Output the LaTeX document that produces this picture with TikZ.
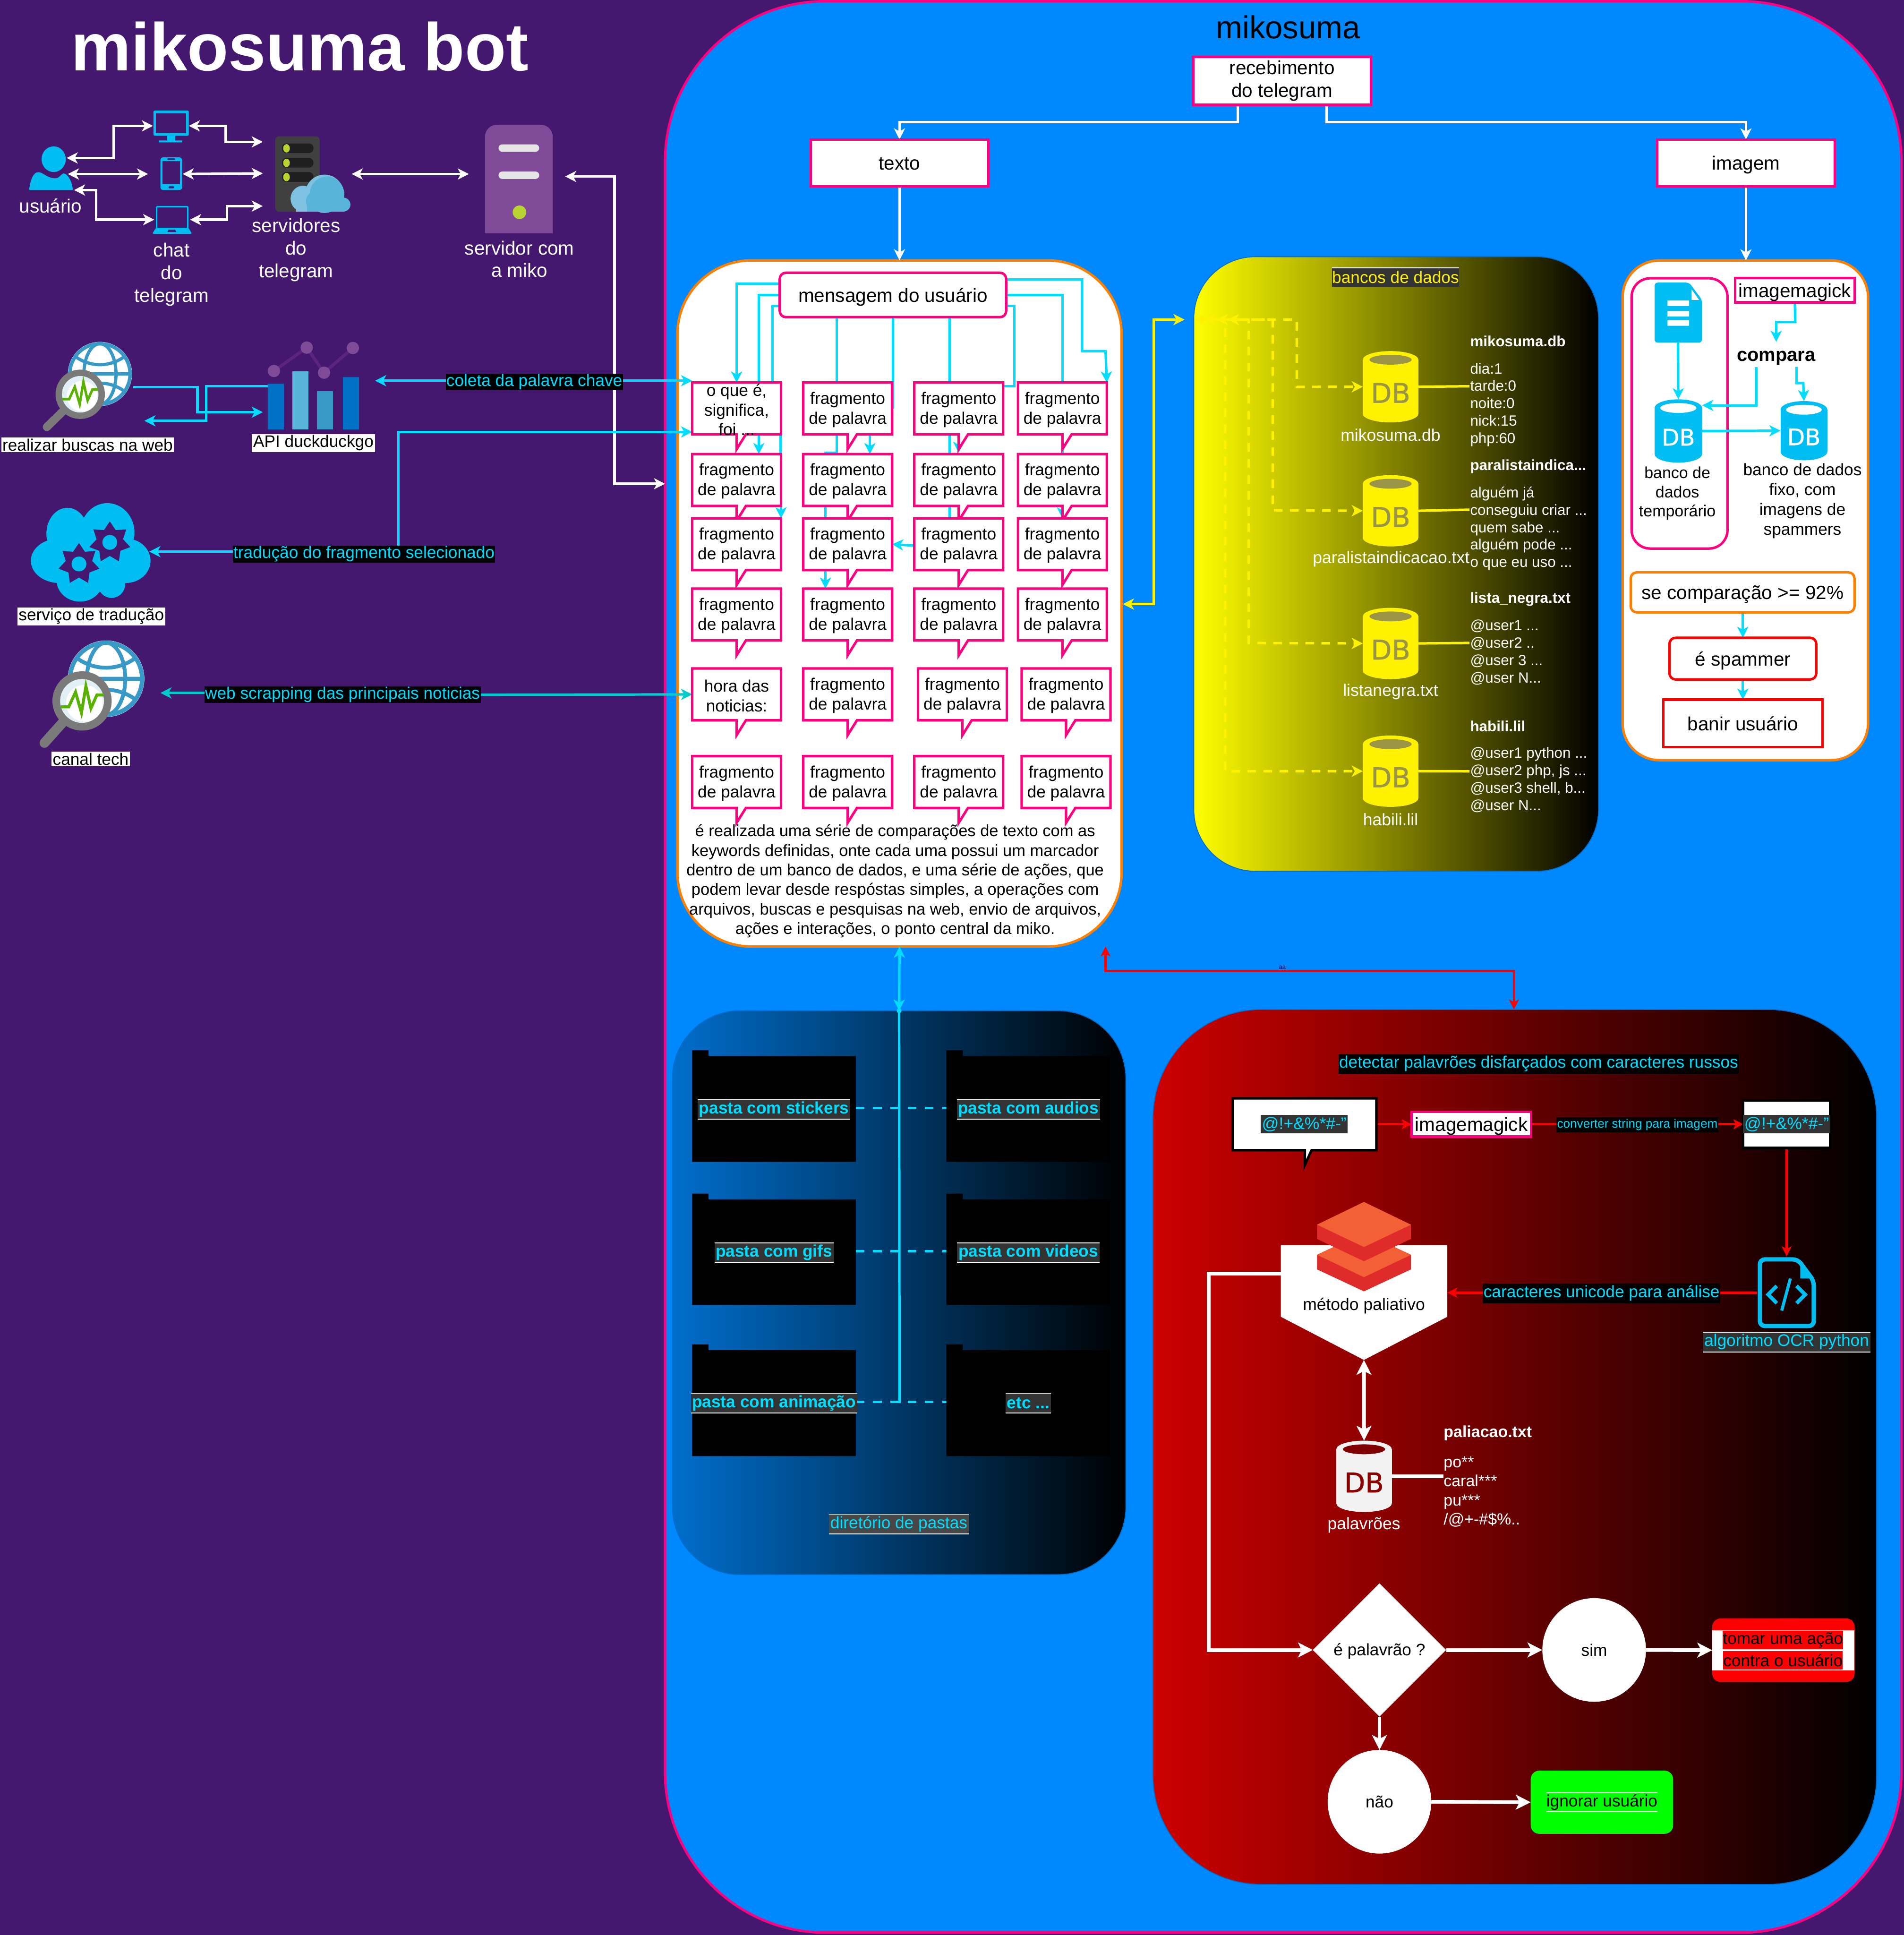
\documentclass[tikz,border=0pt]{standalone}
\usepackage{fontspec}
\setmainfont{Liberation Sans}
\newfontfamily\dbfont[FakeBold=1]{DejaVu Sans}
\usetikzlibrary{arrows.meta,calc,shapes.geometric}
\pgfdeclarelayer{panels}\pgfdeclarelayer{conns}
\pgfsetlayers{panels,conns,main}
\definecolor{bgp}{HTML}{44186E}
\definecolor{mainb}{HTML}{0088FF}
\definecolor{pk}{HTML}{FF0080}
\definecolor{og}{HTML}{FF8000}
\definecolor{cy}{HTML}{00DDFF}
\definecolor{cyd}{HTML}{00CCCC}
\definecolor{ic}{HTML}{00BEF2}
\definecolor{globeb}{HTML}{3999C6}
\definecolor{gr}{HTML}{7A7A7A}
\definecolor{led}{HTML}{B8D432}
\definecolor{tagg}{HTML}{333333}
\definecolor{mikop}{HTML}{7F4A98}
\definecolor{cloudl}{HTML}{7FC1E0}
\definecolor{cloudd}{HTML}{59B4D9}
\definecolor{barb}{HTML}{0072C6}
\definecolor{lnp}{HTML}{5C2480}
\definecolor{edgeb}{HTML}{006ECC}
\definecolor{lyO}{HTML}{F46036}
\definecolor{lyR}{HTML}{E02B2B}
\newcommand\fzA{\fontsize{13.5}{16}\selectfont}
\newcommand\fzB{\fontsize{15.5}{18.3}\selectfont}
\newcommand\fzC{\fontsize{13.6}{16.1}\selectfont}
\newcommand\fzD{\fontsize{12}{14.1}\selectfont}
\newcommand\fzE{\fontsize{13}{15.5}\selectfont}
\newcommand\dn[1]{\raisebox{-5.7pt}[0pt][0pt]{#1}}
\tikzset{
  every node/.style={outer sep=0pt,inner sep=0pt,align=center},
  >={Stealth[length=9pt,width=9pt,inset=2.5pt]},
  wline/.style={draw=white,line width=2pt},
  wthick/.style={draw=white,line width=3pt,>={Stealth[length=12pt,width=12pt,inset=3pt]}},
  cline/.style={draw=cy,line width=2pt},
  cdash/.style={draw=cy,line width=2pt,dash pattern=on 7pt off 7pt},
  rline/.style={draw=red,line width=2pt,>={Stealth[length=8pt,width=8pt,inset=2pt]}},
  yline/.style={draw=yellow,line width=2pt},
  ydash/.style={draw=yellow,line width=2pt,dash pattern=on 7pt off 6pt},
  pinkbox/.style={draw=pk,fill=white,line width=2pt,font=\fzB,text=black},
  tagk/.style={fill=black,text=cy,inner sep=.5pt},
  tagw/.style={fill=white,text=black,font=\fzA,inner sep=1pt},
  tagg/.style={fill=tagg,text=cy,inner sep=1pt},
  wt/.style={text=white,font=\fzB},
}
\newcommand\callout[4]{%
  \path[draw=pk,fill=white,line width=2pt,line join=miter]
    (#2,#3) -- (#2+72,#3) -- (#2+72,#3+42) -- (#2+43.5,#3+42) -- (#2+36,#3+54) -- (#2+36,#3+42) -- (#2,#3+42) -- cycle;
  \node[minimum width=72pt,minimum height=42pt] (#1) at (#2+36,#3+21) {};
  \node[font=\fzA,text=black] (#1t) at (#2+36,#3+22) {#4};
}
\newcommand\elli[5]{\fill[#1] (#2,#3) ellipse [x radius=#4,y radius=#5];}
% name,cx,top,w,h,body,hole,text,fontsize
\newcommand\dbicon[9]{%
  \fill[#6] (#2-#4/2,#3+7) rectangle (#2+#4/2,#3+#5-7);
  \elli{#6}{#2}{#3+7}{#4/2}{7}
  \elli{#6}{#2}{#3+#5-7}{#4/2}{7}
  \elli{#7}{#2}{#3+7}{#4*.38}{4}
  \node[minimum width=#4 pt,minimum height=#5 pt] (#1) at (#2,#3+#5/2) {};
  \node[text=#8,font=\dbfont\fontsize{#9}{#9}\selectfont] (#1t) at (#2,#3+#5/2+5) {DB};
}
% gx,gy,gr,mx,my,mr,hx,hy
\newcommand\globeicon[8]{%
  \fill[white] (#1,#2) circle [radius=#3];
  \draw[globeb,line width=#3*.11 pt] (#1,#2) circle [radius=#3*.94];
  \draw[globeb,line width=#3*.1 pt] (#1,#2) ellipse [x radius=#3*.5,y radius=#3*.94]
    (#1-#3*.94,#2) -- (#1+#3*.94,#2)
    (#1-#3*.78,#2-#3*.55) .. controls (#1-#3*.3,#2-#3*.2) and (#1+#3*.3,#2-#3*.2) .. (#1+#3*.78,#2-#3*.55)
    (#1-#3*.78,#2+#3*.55) .. controls (#1-#3*.3,#2+#3*.2) and (#1+#3*.3,#2+#3*.2) .. (#1+#3*.78,#2+#3*.55);
  \draw[gr,line width=#6*.33 pt,line cap=round] (#7,#8) -- (#4,#5);
  \fill[gr] (#4,#5) circle [radius=#6];
  \fill[white!85!globeb] (#4,#5) circle [radius=#6*.74];
  \fill[white] (#4+#6*.08,#5+#6*.08) circle [radius=#6*.62];
  \draw[green!50!yellow!70!black,line width=#6*.1 pt,line join=miter]
    (#4-#6*.72,#5+#6*.2) -- (#4-#6*.45,#5+#6*.2) -- (#4-#6*.22,#5-#6*.3) -- (#4-#6*.02,#5+#6*.4)
    -- (#4+#6*.13,#5-#6*.5) -- (#4+#6*.3,#5+#6*.25) -- (#4+#6*.5,#5-#6*.2) -- (#4+#6*.72,#5-#6*.2);
}
\newcommand\lined[1]{\draw[white,line width=.6pt] (#1.north west) -- (#1.north east) (#1.south west) -- (#1.south east);}
\newcommand\folder[3]{% x,tabtop,bottom
  \fill[black] (#1,#2) -- (#1+13.3,#2) -- (#1+13.3,#2+4.7) -- (#1+132.6,#2+4.7) -- (#1+132.6,#3) -- (#1,#3) -- cycle;
}
\begin{document}
\begin{tikzpicture}[x=1pt,y=-1pt]
\useasboundingbox (0,0) rectangle (1543,1568);
\begin{pgfonlayer}{panels}
\fill[bgp] (0,0) rectangle (1543,1568);
\node[draw=pk,fill=mainb,line width=2pt,rounded corners=130pt,minimum width=1002pt,minimum height=1565pt] (mainbox) at (1040,783.5) {};
\node[draw=og,fill=white,line width=2pt,rounded corners=60pt,minimum width=360pt,minimum height=556pt] (msgpanel) at (729,489) {};
\node[draw=edgeb,line width=.7pt,left color=yellow,right color=black,rounded corners=50pt,minimum width=328pt,minimum height=498pt] (dbpanel) at (1131.5,457) {};
\node[draw=og,fill=white,line width=2pt,rounded corners=30pt,minimum width=199pt,minimum height=405pt] (imgpanel) at (1414.5,413.5) {};
\node[draw=pk,line width=2pt,rounded corners=15pt,minimum width=77.7pt,minimum height=219pt] (temppanel) at (1361.2,335) {};
\node[draw=edgeb,line width=.7pt,left color=edgeb,right color=black,rounded corners=55pt,minimum width=367.5pt,minimum height=457pt] (dirpanel) at (728.7,1047.5) {};
\node[draw=edgeb,line width=.7pt,left color=red!80!black,right color=black,rounded corners=88pt,minimum width=586.5pt,minimum height=709pt] (redpanel) at (1227.7,1172.5) {};
\end{pgfonlayer}

% ---- title
\node[text=white,font=\bfseries\fontsize{54.7}{60}\selectfont] (title) at (243,37.7) {mikosuma bot};

% ---- user
\elli{ic}{43.5}{129}{9.8}{10.4}
\fill[ic] (23.6,154) .. controls (24.5,146) and (27,139.5) .. (31,139.5) .. controls (35,139.5) and (38,144.5) .. (45,144.5)
  .. controls (48,144.5) and (50,140.5) .. (51.7,140.5) .. controls (55,141) and (58.5,147) .. (59,154) -- cycle;
\node[wt] (usuario) at (41,167) {usuário};
% monitor
\fill[ic,rounded corners=1pt] (124.4,89.6) rectangle (153,110);
\fill[bgp] (126.4,91.8) rectangle (151,108);
\fill[ic] (135.5,110) rectangle (142,114) (128.7,113.8) rectangle (147.6,115.4);
% phone
\fill[ic,rounded corners=2pt] (130,127.5) rectangle (147.6,154);
\fill[bgp] (131.6,130.4) rectangle (146,149.4);
\fill[bgp,rounded corners=.5pt] (135.6,128.3) rectangle (142,129.5) (136.6,151) rectangle (141,152.6);
% laptop
\fill[ic,rounded corners=1pt] (126.4,166.9) rectangle (152.7,186);
\fill[bgp] (127.6,168.2) rectangle (151.6,184.5);
\fill[ic,rounded corners=1pt] (126.4,184.6) -- (152.7,184.6) -- (155.6,189.4) -- (123.4,189.4) -- cycle;
\fill[bgp] (136.5,186.2) -- (142,186.2) -- (142.8,188) -- (135.7,188) -- cycle;
\node[wt] (chat) at (139,222.5) {chat\\do\\telegram};
% server
\fill[black!75,rounded corners=3pt] (223,110.5) rectangle (259,171.5);
\foreach \yy in {116.2,128,139.5}{
  \fill[black!88,rounded corners=3.5pt] (228.5,\yy) rectangle (254,\yy+7.8);
  \elli{led}{232.2}{\yy+4}{2.7}{3.4}
}
\elli{cloudl}{245.5}{161}{10}{10.5}
\elli{cloudl}{263}{157}{15.5}{15.5}
\fill[cloudl] (240,165) rectangle (258,171.5);
\elli{cloudd}{265}{157.5}{14}{14.5}
\elli{cloudd}{257}{163}{9}{8.5}
\fill[cloudd] (249,164) rectangle (277,171.5);
\elli{cloudd}{278}{165.8}{6}{5.7}
\node[wt] (servtg) at (240,202.5) {servidores\\do\\telegram};
% miko server
\fill[mikop] (393,189) [rounded corners=10pt] -- (393,101) -- (448,101) [sharp corners] -- (448,189) -- cycle;
\fill[white!90!black,rounded corners=3pt] (404,117) rectangle (437,123) (404,139) rectangle (437,145);
\elli{led}{421}{172}{5.5}{5.5}
\node[wt] (mikoserv) at (421,210) {servidor com\\a miko};

% ---- left services
\globeicon{81}{303}{26}{65}{319.5}{20}{38}{346}
\node[tagw] (buscas) at (71,360.5) {realizar buscas na web};
\fill[barb] (217,311) rectangle (230,348) (278,305.6) rectangle (291,348);
\fill[cloudd] (237,301) rectangle (250,348);
\fill[globeb] (257,317) rectangle (270,348);
\draw[lnp,line width=2.5pt] (222,300.6) -- (248.6,281.7) -- (262.6,302) -- (286,282);
\foreach \px/\py in {222/300.6,248.6/281.7,262.6/302,286/282}{\elli{mikop}{\px}{\py}{5}{5}}
\node[tagw] (apiddg) at (254,359) {API duckduckgo};
\foreach \ex/\ey/\rx/\ry in {54.6/432.5/17/21,87/431.7/22/24,48/454.4/23/18,102/454.4/20/18,64.8/470/19/17.5,90.4/473.5/11/11,75/452/30/22}{\elli{ic}{\ex}{\ey}{\rx}{\ry}}
\node[star,star points=7,star point ratio=1.55,fill=bgp,minimum size=34pt] (gearA) at (64,457) {};
\elli{ic}{64}{457}{6}{6}
\node[star,star points=7,star point ratio=1.55,fill=bgp,minimum size=34pt] (gearB) at (89,439.5) {};
\elli{ic}{89}{439.5}{6}{6}
\node[tagw] (traducao) at (74,499.5) {serviço de tradução};
\globeicon{86}{550}{31}{66.5}{568}{24}{36}{602}
\node[tagw] (canal) at (73.5,615) {canal tech};

% ---- tags
\node[tagk,font=\fzA] (tcoleta) at (433,309.5) {coleta da palavra chave};
\node[tagk,font=\fzA] (ttrad) at (295,449) {tradução do fragmento selecionado};
\node[tagk,font=\fzA] (tweb) at (277.6,563) {web scrapping das principais noticias};

% ---- main top
\node[text=black,font=\fontsize{25.7}{28}\selectfont] (mikotitle) at (1044,22) {mikosuma};
\node[pinkbox,minimum width=144pt,minimum height=39pt] (recv) at (1039,65.5) {recebimento\\do telegram};
\node[pinkbox,minimum width=144pt,minimum height=38pt] (texto) at (729,132) {\dn{texto}};
\node[pinkbox,minimum width=144pt,minimum height=38pt] (imagem) at (1415,132) {\dn{imagem}};

% ---- message panel
\node[pinkbox,rounded corners=5pt,minimum width=183.5pt,minimum height=36pt] (msg) at (723.7,239) {\dn{mensagem do usuário}};
\callout{coA}{561}{310}{o que é,\\significa,\\foi ...}
\callout{coB}{651}{310}{fragmento\\de palavra}
\callout{coC}{741}{310}{fragmento\\de palavra}
\callout{coD}{825}{310}{fragmento\\de palavra}
\callout{cpA}{561}{368}{fragmento\\de palavra}
\callout{cpB}{651}{368}{fragmento\\de palavra}
\callout{cpC}{741}{368}{fragmento\\de palavra}
\callout{cpD}{825}{368}{fragmento\\de palavra}
\callout{cqA}{561}{420}{fragmento\\de palavra}
\callout{cqB}{651}{420}{fragmento\\de palavra}
\callout{cqC}{741}{420}{fragmento\\de palavra}
\callout{cqD}{825}{420}{fragmento\\de palavra}
\callout{crA}{561}{477}{fragmento\\de palavra}
\callout{crB}{651}{477}{fragmento\\de palavra}
\callout{crC}{741}{477}{fragmento\\de palavra}
\callout{crD}{825}{477}{fragmento\\de palavra}
\callout{csA}{561}{541.7}{hora das\\noticias:}
\callout{csB}{651}{541.7}{fragmento\\de palavra}
\callout{csC}{744}{541.7}{fragmento\\de palavra}
\callout{csD}{828}{541.7}{fragmento\\de palavra}
\callout{ctA}{561}{612.7}{fragmento\\de palavra}
\callout{ctB}{651}{612.7}{fragmento\\de palavra}
\callout{ctC}{741}{612.7}{fragmento\\de palavra}
\callout{ctD}{828}{612.7}{fragmento\\de palavra}
\node[text=black,font=\fontsize{13.2}{15.85}\selectfont] (msgtext) at (725.5,714) {é realizada uma série de comparações de texto com as\\keywords definidas, onte cada uma possui um marcador\\dentro de um banco de dados, e uma série de ações, que\\podem levar desde respóstas simples, a operações com\\arquivos, buscas e pesquisas na web, envio de arquivos,\\ações e interações, o ponto central da miko.};

% ---- DB panel
\node[fill=tagg,text=yellow,font=\fzA,minimum width=103pt,minimum height=15.6pt] (tbancos) at (1131,224.8) {bancos de dados};
\lined{tbancos}
\dbicon{dbA}{1127}{284.5}{45}{57.8}{yellow}{yellow!55!black}{yellow!55!black}{22}
\dbicon{dbB}{1127}{385}{45}{57.8}{yellow}{yellow!55!black}{yellow!55!black}{22}
\dbicon{dbC}{1127}{492.5}{45}{57.8}{yellow}{yellow!55!black}{yellow!55!black}{22}
\dbicon{dbD}{1127}{596}{45}{57.8}{yellow}{yellow!55!black}{yellow!55!black}{22}
\node[text=white,font=\fzC] (ldbA) at (1127,352.5) {mikosuma.db};
\node[text=white,font=\fzC] (ldbB) at (1127.5,453) {paralistaindicacao.txt};
\node[text=white,font=\fzC] (ldbC) at (1127,560.5) {listanegra.txt};
\node[text=white,font=\fzC] (ldbD) at (1127,664) {habili.lil};
\node[text=white,font=\bfseries\fzD,anchor=west] (hA) at (1191.5,276.6) {mikosuma.db};
\node[text=white,font=\fzD,anchor=west,align=left] (bA) at (1191.5,327.9) {dia:1\\tarde:0\\noite:0\\nick:15\\php:60};
\node[text=white,font=\bfseries\fzD,anchor=west] (hB) at (1191.5,377.8) {paralistaindica...};
\node[text=white,font=\fzD,anchor=west,align=left] (bB) at (1191.5,428.3) {alguém já\\conseguiu criar ...\\quem sabe ...\\alguém pode ...\\o que eu uso ...};
\node[text=white,font=\bfseries\fzD,anchor=west] (hC) at (1191.5,485.6) {lista\_negra.txt};
\node[text=white,font=\fzD,anchor=west,align=left] (bC) at (1191.5,528.5) {@user1 ...\\@user2 ..\\@user 3 ...\\@user N...};
\node[text=white,font=\bfseries\fzD,anchor=west] (hD) at (1191.5,588.5) {habili.lil};
\node[text=white,font=\fzD,anchor=west,align=left] (bD) at (1191.5,632) {@user1 python ...\\@user2 php, js ...\\@user3 shell, b...\\@user N...};

% ---- image panel
\fill[ic,rounded corners=2.5pt] (1341,229) -- (1369,229) -- (1379.4,243) -- (1379.4,277.6) -- (1341,277.6) -- cycle;
\fill[white] (1371,234.5) -- (1377,243) -- (1371,243) -- cycle;
\fill[white] (1351.5,243.5) rectangle (1369,248) (1351.5,252) rectangle (1369,256.5) (1351.5,259.5) rectangle (1369,264);
\node[pinkbox,minimum width=96.7pt,minimum height=19.6pt] (magickA) at (1454.6,235.2) {\dn{imagemagick}};
\node[text=black,font=\bfseries\fontsize{15.3}{18}\selectfont] (compara) at (1439.5,290.3) {compara};
\dbicon{dbTemp}{1360.2}{323.6}{38.5}{51.3}{ic}{white}{white}{18.5}
\dbicon{dbFix}{1462}{325}{38}{48}{ic}{white}{white}{18.5}
\node[text=black,font=\fzE] (ltemp) at (1359.4,399.8) {banco de\\dados\\temporário};
\node[text=black,font=\fontsize{13.5}{16.1}\selectfont] (lfix) at (1460.8,406) {banco de dados\\fixo, com\\imagens de\\spammers};
\node[draw=og,fill=white,line width=2pt,rounded corners=5pt,minimum width=181.4pt,minimum height=32.4pt,font=\fzB,text=black] (secomp) at (1412.3,480) {\dn{se comparação >= 92\%}};
\node[draw=red,fill=white,line width=2pt,rounded corners=5pt,minimum width=119pt,minimum height=33.8pt,font=\fzB,text=black] (spam) at (1412.5,533.7) {\dn{é spammer}};
\node[draw=red,fill=white,line width=2pt,minimum width=129pt,minimum height=38.5pt,font=\fzB,text=black] (banir) at (1412.5,586.2) {\dn{banir usuário}};

% ---- directories
\folder{561}{851}{941.5}
\folder{767}{851}{941.5}
\folder{561}{967.2}{1057.5}
\folder{767}{967.2}{1057.5}
\folder{561}{1089.4}{1180}
\folder{767}{1089.4}{1180}
\tikzset{dirlab/.style={tagg,font=\bfseries\fzA,minimum height=15.8pt}}
\node[dirlab] (fA) at (627.3,899) {pasta com stickers}; \lined{fA}
\node[dirlab] (fB) at (833.4,899) {pasta com audios}; \lined{fB}
\node[dirlab] (fC) at (627.3,1015) {pasta com gifs}; \lined{fC}
\node[dirlab] (fD) at (833.4,1015) {pasta com videos}; \lined{fD}
\node[dirlab] (fE) at (627.3,1137) {pasta com animação}; \lined{fE}
\node[dirlab] (fF) at (833.4,1137) {etc ...}; \lined{fF}
\node[tagg,fill=black!72,font=\fzA,minimum height=15.8pt] (tdir) at (728.5,1235) {diretório de pastas}; \lined{tdir}

% ---- red panel
\node[tagk,font=\fontsize{13.5}{16}\selectfont,minimum height=16pt] (trussos) at (1247,862) {detectar palavrões disfarçados com caracteres russos};
\path[draw=black,fill=white,line width=2pt,line join=miter] (999,890) -- (1115.5,890) -- (1115.5,932) -- (1063,932) -- (1057.5,944) -- (1057.5,932) -- (999,932) -- cycle;
\node[tagg,font=\fzC,minimum height=15pt] (str) at (1057,911) {@!+\&\%*\#-"};
\node[minimum width=116.5pt,minimum height=42pt] (strbox) at (1057.2,911) {};
\node[pinkbox,minimum width=97pt,minimum height=20pt] (magickB) at (1192.5,911) {\dn{imagemagick}};
\node[draw=black,fill=white,line width=2pt,minimum width=70.3pt,minimum height=38.5pt] (imgbox) at (1448,911) {};
\node[tagg,font=\fzC,minimum height=15pt] (strB) at (1448,911) {@!+\&\%*\#-"};
\node[tagk,font=\fontsize{10}{12}\selectfont,minimum height=12pt] (tconv) at (1327,911.5) {converter string para imagem};
% code icon
\draw[ic,line width=3.5pt,rounded corners=4pt] (1426.3,1020.5) -- (1457,1020.5) -- (1470,1038) -- (1470,1074.5) -- (1426.3,1074.5) -- cycle;
\fill[ic] (1459,1021) -- (1470,1036) -- (1459,1036) -- cycle;
\draw[ic,line width=3pt,line join=miter] (1440,1042) -- (1433,1049) -- (1440,1056) (1456,1042) -- (1463,1049) -- (1456,1056);
\draw[ic,line width=2.5pt] (1451,1036) -- (1444,1062);
\node[tagg,font=\fontsize{13.5}{16}\selectfont,minimum height=16pt] (tocr) at (1448,1087.5) {algoritmo OCR python}; \lined{tocr}
\node[tagk,font=\fontsize{13.5}{16}\selectfont,minimum height=16pt] (tuni) at (1298,1048) {caracteres unicode para análise};
% paliativo
\fill[white] (1038,1009) -- (1173,1009) -- (1173,1067) -- (1105.4,1102) -- (1038,1067) -- cycle;
\fill[lyR] (1067.4,1016.8) -- (1105.4,999) -- (1143.5,1016.8) -- (1143.5,1028.6) -- (1105.4,1046.4) -- (1067.4,1028.6) -- cycle;
\fill[lyO] (1067.4,1016.8) -- (1105.4,999) -- (1143.5,1016.8) -- (1105.4,1034.9) -- cycle;
\fill[lyR] (1067.4,992.4) -- (1105.4,974) -- (1143.5,992.4) -- (1143.5,1003.9) -- (1105.4,1022) -- (1067.4,1003.9) -- cycle;
\fill[lyO] (1067.4,992.4) -- (1105.4,974) -- (1143.5,992.4) -- (1105.4,1010.5) -- cycle;
\node[text=black,font=\fzC] (tpal) at (1105.4,1058) {método paliativo};
\dbicon{dbPal}{1105.5}{1167.4}{45}{57.8}{black!5}{red!50!black}{red!55!black}{22}
\node[text=white,font=\fzC] (lpal) at (1105.4,1236) {palavrões};
\node[text=white,font=\bfseries\fzE,anchor=west] (hpal) at (1170,1161.3) {paliacao.txt};
\node[text=white,font=\fontsize{13}{15.5}\selectfont,anchor=west,align=left] (bpal) at (1170,1208.8) {po**\\caral***\\pu***\\/@+-\#\$\%..};
\node[diamond,fill=white,minimum width=108pt,minimum height=108pt,text=black] (isbad) at (1118,1337) {};
\node[text=black,font=\fzA] (tisbad) at (1118,1338) {é palavrão ?};
\node[circle,fill=white,minimum size=84pt,text=black,font=\fzA] (sim) at (1292,1337) {sim};
\node[circle,fill=white,minimum size=84pt,text=black,font=\fzA] (nao) at (1118,1460) {não};
\node[fill=red,rounded corners=7pt,minimum width=115.5pt,minimum height=51.5pt] (acao) at (1445.4,1337.2) {};
\fill[white] (1387.7,1321) rectangle (1503,1353.5);
\node[fill=red,text=black,font=\fzA,minimum height=15.1pt] (acaoA) at (1445,1329) {tomar uma ação};
\node[fill=red,text=black,font=\fzA,minimum height=15.1pt] (acaoB) at (1445,1345.3) {contra o usuário};
\node[fill=green,rounded corners=7pt,minimum width=115.5pt,minimum height=51.2pt,text=black] (ign) at (1298.3,1460.4) {};
\node[text=black,font=\fzA,minimum width=90pt,minimum height=15.4pt] (tign) at (1298.3,1460.4) {ignorar usuário}; \lined{tign}
\node[text=black!70!blue,font=\fontsize{5}{6}\selectfont] (taa) at (1039.3,784) {aa};

% ---- named free ends
\coordinate (uA) at (54,128); \coordinate (uB) at (55,141); \coordinate (uC) at (60,154);
\coordinate (monW) at (124,102); \coordinate (monE) at (153,102);
\coordinate (phW) at (120,141); \coordinate (phE) at (148,141);
\coordinate (lapW) at (125,178); \coordinate (lapE) at (154,178);
\coordinate (sA) at (213,115); \coordinate (sB) at (213,140.5); \coordinate (sC) at (213,167);
\coordinate (sE) at (285,141); \coordinate (mkW) at (380,141); \coordinate (mkE) at (458,143);
\coordinate (mainW) at (539,392);
\coordinate (gloE) at (108,313.7); \coordinate (gloR) at (117,341);
\coordinate (apiW) at (213,334); \coordinate (apiBar) at (217,313); \coordinate (apiE) at (304,308.5);
\coordinate (transE) at (121,447); \coordinate (canalE) at (130,561.5);
\coordinate (dbL) at (960,259); \coordinate (msgE) at (910,489.5);
\coordinate (txtA) at (1191,313); \coordinate (txtB) at (1191,413); \coordinate (txtC) at (1191,521); \coordinate (txtD) at (1191,625);
\coordinate (docS) at (1360,277.6);
\coordinate (codeN) at (1448,1018); \coordinate (codeW) at (1424,1047.5);
\coordinate (paliE) at (1173,1047.5); \coordinate (paliW) at (1038,1032); \coordinate (paliS) at (1105.4,1102);
\coordinate (msgR) at (896,767); \coordinate (redN) at (1227,818);

\begin{pgfonlayer}{conns}
% left
\draw[wline,<->] (uA) -- (92,128) -- (92,102) -- (monW);
\draw[wline,<->] (uB) -- (phW);
\draw[wline,<->] (uC) -- (78,154) -- (78,178) -- (lapW);
\draw[wline,<->] (monE) -- (183,102) -- (183,115) -- (sA);
\draw[wline,<->] (phE) -- (sB);
\draw[wline,<->] (lapE) -- (184,178) -- (184,167) -- (sC);
\draw[wline,<->] (sE) -- (mkW);
\draw[wline,<->] (mkE) -- (498,143) -- (498,392) -- (mainW);
\draw[cline,->] (gloE) -- (160,313.7) -- (160,334) -- (apiW);
\draw[cline,->] (apiBar) -- (167,313) -- (167,341) -- (gloR);
\draw[cline,<->] (apiE) -- ($(coA.north west)+(0,-1.5)$);
\draw[cline,<->] ($(coA.south west)+(0,-2)$) -- (323,350) -- (323,447) -- (transE);
\draw[draw=cyd,line width=2pt,->] (tweb.west |- canalE) -- (canalE);
\draw[draw=cyd,line width=2pt,->] (tweb.east) -- (csA.west);
% main
\draw[wline,->] ($(recv.south)+(-36,0)$) -- ++(0,14) -| (texto.north);
\draw[wline,->] ($(recv.south)+(36,0)$) -- ++(0,14) -| (imagem.north);
\draw[wline,->] (texto.south) -- (msgpanel.north);
\draw[wline,->] (imagem.south) -- (imagem.south |- imgpanel.north);
\draw[yline,<->] (msgE) -- (935,489.5) -- (935,259) -- (dbL);
% message cyan
\draw[cline,->] ($(msg.north west)+(0,9)$) -| (coA.north);
\draw[cline,->] ($(msg.north west)+(0,18)$) -| ($(cpA.north)+(18,0)$);
\draw[cline,->] ($(msg.north west)+(0,27)$) -- (626,248) -- (626,330) -- (632.5,330) -- (cqA.north east);
\draw[cline,->] (678,257) -- (678,367) -- (669,367) -- ($(crB.north)+(-18,0)$);
\draw[cline,->] (723.6,257) -- (723.6,330) -- (705,330) -- ($(cpB.north)+(18,0)$);
\draw[cline,->] (769.5,257) -- (769.5,444) -- (cqB.east);
\draw[cline,->] ($(msg.north east)+(0,27)$) -- (822,248) -- (822,313) -- (777,313) -- ($(cpC.north)+(0,-1)$);
\draw[cline,->] ($(msg.north east)+(0,18)$) -| (861,420);
\draw[cline,->] ($(msg.north east)+(0,5.5)$) -- (877,226.5) -- (877,284.5) -- (896,284.5) -- (coD.north east);
% db
\draw[ydash,<->] (968,259) -- (993,259) -- (993,625) -- (dbD.west);
\draw[ydash,<->] (976,259) -- (1012,259) -- (1012,521) -- (dbC.west);
\draw[ydash,<->] (986,259) -- (1031.5,259) -- (1031.5,413.5) -- (dbB.west);
\draw[ydash,<->] (995,259) -- (1051,259) -- (1051,313.5) -- (dbA.west);
\draw[yline] (dbA.east) -- (txtA);
\draw[yline] (dbB.east) -- (txtB);
\draw[yline] (dbC.east) -- (txtC);
\draw[yline] (dbD.east) -- (txtD);
% image panel
\draw[cline,->] (magickA.south) -- (1455,261) -- (1439.5,261) -- (1439.5,277);
\draw[cline,->] (1423.3,297.3) -- (1423.3,328.5) -- (1379.5,328.5);
\draw[cline,->] (1456,297.3) -- (1456,310.5) -- (1461.5,310.5) -- (dbFix.north);
\draw[cline,->] (docS) -- (dbTemp.north);
\draw[cline,->] (dbTemp.east) -- (dbFix.west);
\draw[cline,->] (secomp.south) -- (spam.north);
\draw[cline,->] (spam.south) -- (banir.north);
% dir
\draw[cline,<->] (msgpanel.south) -- (dirpanel.north);
\draw[cline] (dirpanel.north) -- (729,1137);
\fill[cy] (dirpanel.north) circle [radius=2];
\draw[cdash] (693.6,898) -- (767,898);
\draw[cdash] (693.6,1014) -- (767,1014);
\draw[cdash] (693.6,1136) -- (767,1136);
% red
\draw[rline,<->] (msgR) -- (896,787) -- (1227,787) -- (redN);
\draw[rline,->] (strbox.east) -- (magickB.west);
\draw[rline,->] (magickB.east) -- (imgbox.west);
\draw[rline,->] (imgbox.south) -- (codeN);
\draw[rline,->] (codeW) -- (paliE);
\draw[wthick,<->] (paliS) -- (dbPal.north);
\draw[draw=white,line width=3pt] (dbPal.east) -- (bpal.west |- dbPal.east);
\draw[wthick,->] (paliW) -- (979.5,1032) -- (979.5,1337) -- (isbad.west);
\draw[wthick,->] (isbad.east) -- (sim.west);
\draw[wthick,->] (sim.east) -- (acao.west);
\draw[wthick,->] (isbad.south) -- (nao.north);
\draw[wthick,->] (nao.east) -- (ign.west);
\end{pgfonlayer}
\end{tikzpicture}
\end{document}
